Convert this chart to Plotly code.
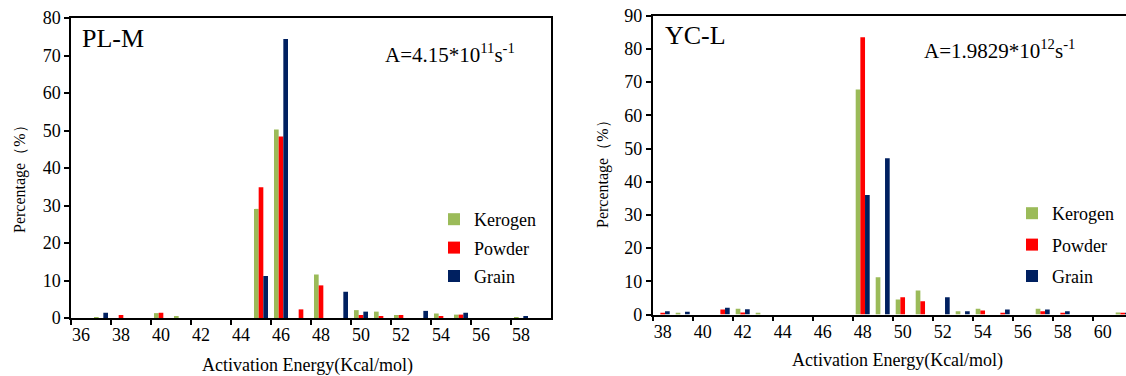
import plotly.graph_objects as go

W, H = 1126, 376

# ---------------- data ----------------
energy_plm = [str(e) for e in range(36, 60)]
kerogen_plm = [0, 0.2, 0, 0, 1.3, 0.3, 0, 0, 0, 29.1, 50.3, 0, 11.6, 0, 2.1, 1.7, 0.8, 0, 1.2, 0.9, 0, 0, 0.2, 0]
powder_plm  = [0, 0, 0.8, 0, 1.4, 0, 0, 0, 0, 34.9, 48.4, 2.3, 8.7, 0, 0.8, 0.5, 0.8, 0, 0.4, 0.9, 0, 0, 0, 0]
grain_plm   = [0, 1.4, 0, 0, 0, 0, 0, 0, 0, 11.2, 74.4, 0, 0, 7.0, 1.7, 0, 0, 1.9, 0, 1.4, 0, 0, 0.3, 0]

energy_ycl = [str(e) for e in range(38, 62)]
kerogen_ycl = [0, 0.5, 0, 0, 1.7, 0.4, 0, 0, 0, 0, 67.8, 11.2, 4.5, 7.2, 0, 1.0, 1.7, 0, 0, 1.7, 0, 0, 0, 0.6]
powder_ycl  = [0.5, 0, 0, 1.5, 0.6, 0, 0, 0, 0, 0, 83.5, 0, 5.2, 4.0, 0, 0, 1.2, 0.5, 0, 1.0, 0.5, 0, 0, 0.5]
grain_ycl   = [1.0, 0.8, 0, 2.0, 1.6, 0, 0, 0, 0, 0, 36.0, 47.1, 0, 0, 5.2, 1.0, 0, 1.5, 0, 1.5, 1.0, 0, 0, 0.4]

series_names = ["Kerogen", "Powder", "Grain"]
colors = ["#9BBB59", "#FF0000", "#002060"]

FONT = "Liberation Serif"

def px_x(p):
    return p / W

def px_y(p):
    return 1 - p / H

fig = go.Figure()

for name, col, vals in zip(series_names, colors, [kerogen_plm, powder_plm, grain_plm]):
    fig.add_trace(go.Bar(x=energy_plm, y=vals, name=name, marker=dict(color=col, line=dict(width=0)),
                         xaxis="x", yaxis="y", legend="legend", legendgroup="L" + name))
for name, col, vals in zip(series_names, colors, [kerogen_ycl, powder_ycl, grain_ycl]):
    fig.add_trace(go.Bar(x=energy_ycl, y=vals, name=name, marker=dict(color=col, line=dict(width=0)),
                         xaxis="x2", yaxis="y2", legend="legend2", legendgroup="R" + name))

axis_common = dict(showgrid=False, zeroline=False, showline=True, linecolor="black", linewidth=1.5,
                   ticks="outside", ticklen=5, tickwidth=1.5, tickcolor="black", tickangle=0,
                   tickfont=dict(family=FONT, size=18, color="black"), automargin=False)

legend_common = dict(font=dict(family=FONT, size=18, color="black"), bgcolor="rgba(0,0,0,0)",
                     borderwidth=0, xanchor="left", yanchor="top", itemclick=False)

fig.update_layout(
    width=W, height=H, margin=dict(l=0, r=0, t=0, b=0),
    paper_bgcolor="white", plot_bgcolor="white",
    font=dict(family=FONT, color="black"),
    barmode="group", bargap=0.3, bargroupgap=0,
    xaxis=dict(domain=[px_x(71), px_x(551)], anchor="y", type="category",
               range=[-0.5, 23.5], tickmode="linear", tick0=0, dtick=2, tickson="boundaries",
               mirror=True, **axis_common),
    yaxis=dict(domain=[px_y(318), px_y(18)], anchor="x", range=[0, 80], dtick=10,
               mirror=True, **axis_common),
    xaxis2=dict(domain=[px_x(652.7), 1.0], anchor="y2", type="category",
                range=[-0.5, 23.5 - 6.7 / 20], tickmode="linear", tick0=0, dtick=2, tickson="boundaries",
                mirror=True, **axis_common),
    yaxis2=dict(domain=[px_y(314.5), px_y(15.7)], anchor="x2", range=[0, 90], dtick=10,
                mirror=False, **axis_common),
    legend=dict(x=px_x(434), y=px_y(201), tracegroupgap=2, **legend_common),
    legend2=dict(x=px_x(1012), y=px_y(195), tracegroupgap=5, **legend_common),
    showlegend=True,
)

ann = []
def add_text(text, x, y, size, xanchor="left", yanchor="middle", angle=0):
    ann.append(dict(text=text, x=px_x(x), y=px_y(y), xref="paper", yref="paper",
                    xanchor=xanchor, yanchor=yanchor, showarrow=False, textangle=angle,
                    font=dict(family=FONT, size=size, color="black")))

add_text("PL-M", 80, 38, 26)
add_text("YC-L", 663, 35, 26)
add_text("A=4.15*10<sup>11</sup>s<sup>-1</sup>", 383, 54, 21)
add_text("A=1.9829*10<sup>12</sup>s<sup>-1</sup>", 922, 49, 21)
add_text("Percentage（%）", 20, 175, 16, xanchor="center", angle=-90)
add_text("Percentage（%）", 603, 170, 16, xanchor="center", angle=-90)
add_text("Activation Energy(Kcal/mol)", 307, 365, 18, xanchor="center")
add_text("Activation Energy(Kcal/mol)", 897, 360, 18, xanchor="center")
fig.update_layout(annotations=ann)

fig.write_html("out.html")
